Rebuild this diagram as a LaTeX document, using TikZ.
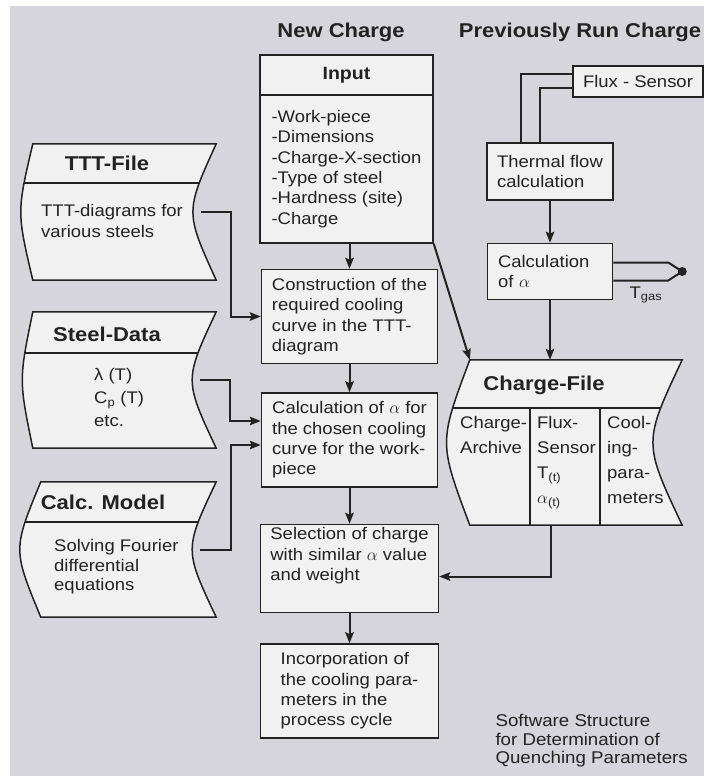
\documentclass[tikz,border=0pt]{standalone}
\usepackage{fontspec}
\setmainfont{Liberation Sans}[FakeStretch=1.1]
\usetikzlibrary{positioning,arrows.meta}
\definecolor{paper}{HTML}{D5D5DB}
\definecolor{boxfill}{HTML}{F1F1F2}
\definecolor{ink}{HTML}{222222}

% data store outline: node, header height, left bulge, right bulge
\newcommand{\storefile}[4]{%
  \draw[file, path picture={\draw[draw=ink, line width=1.5pt]
      ([yshift=-#2, xshift=-40pt]#1.north west) -- ++(320pt,0);}]
    (#1.north west) .. controls ([xshift=-#3]#1.west) .. (#1.south west)
    -- (#1.south east) .. controls ([xshift=-#4]#1.east) .. (#1.north east) -- cycle;}

\begin{document}
\begin{tikzpicture}[
  x=1pt, y=-1pt,
  every node/.style={font=\fontsize{16.8}{20.4}\selectfont, text=ink},
  box/.style={rectangle, draw=ink, line width=1.5pt, fill=boxfill, align=left, inner sep=0pt},
  file/.style={draw=ink, line width=1.5pt, fill=boxfill},
  title/.style={font=\fontsize{20}{24}\selectfont\bfseries},
  body/.style={anchor=north west, align=left, inner sep=0pt},
  arrow/.style={-{Stealth[length=11pt,width=8.5pt,inset=2pt]}, line width=2pt, draw=ink},
  wire/.style={line width=2pt, draw=ink}
]
  \useasboundingbox (0,0) rectangle (704,776);
  \fill[white] (0,0) rectangle (704,776);
  \fill[paper] (10,6) rectangle (704,776);

  \node[title] (newch) at (341,32) {New Charge};
  \node[title] (oldch) at (580,32) {Previously Run Charge};

  % new charge column
  \node[box, minimum width=173pt, minimum height=40pt, font=\fontsize{17.8}{20}\selectfont\bfseries]
    (inhead) at (346.5,75) {Input};
  \node[box, minimum width=173pt, minimum height=148pt, below=-1.5pt of inhead] (input)
    {-Work-piece\\-Dimensions\\-Charge-X-section\\-Type of steel\\-Hardness (site)\\-Charge};
  \node[box, minimum width=176pt, minimum height=94pt, below=25pt of input, xshift=3pt] (constr)
    {Construction of the\\required cooling\\curve in the TTT-\\diagram};
  \node[box, minimum width=176pt, minimum height=94pt, below=28pt of constr] (calca)
    {Calculation of $\alpha$ for\\the chosen cooling\\curve for the work-\\piece};
  \node[box, minimum width=178pt, minimum height=88pt, below=36pt of calca] (select)
    {Selection of charge\\with similar $\alpha$ value\\and weight\\[8pt]};
  \node[box, minimum width=178pt, minimum height=94pt, below=30pt of select] (incorp)
    {Incorporation of\\the cooling para-\\meters in the\\process cycle};

  % previously run charge column
  \node[box, minimum width=130pt, minimum height=31pt] (flux) at (638,81.5) {Flux - Sensor};
  \node[box, minimum width=126pt, minimum height=57pt] (thermal) at (550,171.5)
    {Thermal flow\\calculation};
  \node[box, minimum width=125pt, minimum height=56pt, text width=104pt, inner xsep=10.5pt,
    below=42pt of thermal] (calcal) {Calculation\\of $\alpha$};
  \coordinate (tc) at ([xshift=69pt]calcal.east);

  \node[minimum width=212pt, minimum height=165pt] (chfile) at (576,442.5) {};
  \storefile{chfile}{48pt}{31pt}{39pt}
  \draw[draw=ink, line width=1.5pt] ([xshift=-46pt, yshift=-48pt]chfile.north) -- ([xshift=-46pt]chfile.south);
  \draw[draw=ink, line width=1.5pt] ([xshift=24pt, yshift=-48pt]chfile.north) -- ([xshift=24pt]chfile.south);
  \node[title] (chtitle) at (544,385) {Charge-File};
  \node[body, font=\fontsize{16.8}{25}\selectfont] (charch) at (460,416.5) {Charge-\\Archive};
  \node[body, font=\fontsize{16.8}{25}\selectfont] (chflux) at (537,416.5)
    {Flux-\\Sensor\\T\textsubscript{(t)}\\$\alpha$\textsubscript{(t)}};
  \node[body, font=\fontsize{16.8}{25}\selectfont] (chcool) at (607,416.5)
    {Cool-\\ing-\\para-\\meters};

  % data files on the left
  \node[minimum width=183pt, minimum height=136pt] (ttt) at (124.5,212) {};
  \storefile{ttt}{39pt}{16pt}{31pt}
  \node[title] (ttttitle) at (107,163) {TTT-File};
  \node[body] (tttbody) at (41,204.5) {TTT-diagrams for\\various steels};

  \node[minimum width=183pt, minimum height=136pt] (steel) at (124.5,380) {};
  \storefile{steel}{41pt}{14pt}{32pt}
  \node[title] (steeltitle) at (107,334) {Steel-Data};
  \node[body, font=\fontsize{16.8}{23}\selectfont] (steelbody) at (94,368.5)
    {λ (T)\\C\textsubscript{p} (T)\\etc.};

  \node[minimum width=175pt, minimum height=135pt] (calcm) at (128.5,549.5) {};
  \storefile{calcm}{40pt}{28pt}{32pt}
  \node[title] (calcmtitle) at (103,502) {Calc. Model};
  \node[body, font=\fontsize{16.8}{19.5}\selectfont] (calcmbody) at (54,539.5)
    {Solving Fourier\\differential\\equations};

  % connectors
  \draw[arrow] (constr.north |- input.south) -- (constr.north);
  \draw[arrow] (constr) -- (calca);
  \draw[arrow] (calca.south) -- (calca.south |- select.north);
  \draw[arrow] (select) -- (incorp);
  \draw[arrow] ([xshift=-15.5pt]ttt.east) -- ++(30,0) |- (constr.west);
  \draw[arrow] ([xshift=-16pt]steel.east) -- ++(30,0) |- ([yshift=19pt]calca.west);
  \draw[arrow] ([xshift=-16pt]calcm.east) -- ++(31,0) |- ([yshift=-5pt]calca.west);
  \draw[arrow] (input.south east) -- (chfile.north west);

  \draw[wire] ([yshift=7.5pt]flux.west) -| ([xshift=35pt]thermal.north west);
  \draw[wire] ([yshift=-6.5pt]flux.west) -| ([xshift=54pt]thermal.north west);
  \draw[arrow] (thermal) -- (calcal);
  \draw[wire] ([yshift=9pt]calcal.east) -- ++(55,0) -- (tc)
    -- ([xshift=55pt, yshift=-9pt]calcal.east) -- ([yshift=-9pt]calcal.east);
  \fill[ink] (tc) circle (4.5pt);
  \node (tgas) at (646,295) {T\textsubscript{gas}};
  \draw[arrow] (calcal.south) -- (calcal.south |- chfile.north);
  \draw[arrow] ([xshift=-25pt]chfile.south) |- ([yshift=-8pt]select.east);

  \node[align=left, anchor=west, font=\fontsize{17}{18.5}\selectfont] (caption) at (492,741)
    {Software Structure\\for Determination of\\Quenching Parameters};
\end{tikzpicture}
\end{document}
